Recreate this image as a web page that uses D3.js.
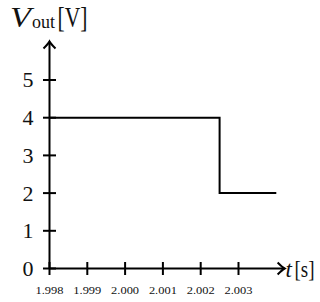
<!DOCTYPE html>
<html><head><meta charset="utf-8">
<script src="https://cdn.jsdelivr.net/npm/d3@7"></script>
<style>body{margin:0;background:#fff}svg{display:block}</style>
</head><body>
<script>
const tTicks = [1.998, 1.999, 2.000, 2.001, 2.002, 2.003];
const vTicks = [0, 1, 2, 3, 4, 5];
const tData = [1.998, 2.0025, 2.004];
const vData = [4, 2, 2];

const W = 320, H = 302;
const svg = d3.select("body").append("svg").attr("width", W).attr("height", H);
const x = d3.scaleLinear().domain([1.998, 2.003]).range([49.5, 238.5]);
const y = d3.scaleLinear().domain([0, 5]).range([268.5, 80]);
const font = "'Liberation Serif', 'DejaVu Serif', serif";

// data line
const line = d3.line().x((d, i) => x(tData[i])).y(d => y(d)).curve(d3.curveStepAfter);
svg.append("path").attr("d", line(vData)).attr("fill", "none").attr("stroke", "#000").attr("stroke-width", 2);

// axes
const x0 = x(1.998), y0 = y(0);
const xEnd = x(2.00422), yEnd = y(6.02);
svg.append("line").attr("x1", x0).attr("x2", xEnd).attr("y1", y0).attr("y2", y0).attr("stroke", "#000").attr("stroke-width", 2);
svg.append("line").attr("x1", x0).attr("x2", x0).attr("y1", y0).attr("y2", yEnd).attr("stroke", "#000").attr("stroke-width", 2);
// arrow heads
svg.append("path").attr("d", `M${xEnd-7},${y0-6} Q${xEnd-2},${y0-1} ${xEnd},${y0} Q${xEnd-2},${y0+1} ${xEnd-7},${y0+6}`)
  .attr("fill", "none").attr("stroke", "#000").attr("stroke-width", 2);
svg.append("path").attr("d", `M${x0-6},${yEnd+7} Q${x0-1},${yEnd+2} ${x0},${yEnd} Q${x0+1},${yEnd+2} ${x0+6},${yEnd+7}`)
  .attr("fill", "none").attr("stroke", "#000").attr("stroke-width", 2);

// ticks
svg.selectAll(".xt").data(tTicks).enter().append("line")
  .attr("x1", d => x(d)).attr("x2", d => x(d)).attr("y1", y0 - 6.5).attr("y2", y0 + 6.5)
  .attr("stroke", "#000").attr("stroke-width", 2);
svg.selectAll(".yt").data(vTicks).enter().append("line")
  .attr("x1", x0 - 6.5).attr("x2", x0 + 6.5).attr("y1", d => y(d)).attr("y2", d => y(d))
  .attr("stroke", "#000").attr("stroke-width", 2);

// tick labels
svg.selectAll(".xl").data(tTicks).enter().append("text")
  .attr("x", d => x(d)).attr("y", 293.5).attr("text-anchor", "middle")
  .attr("font-family", font).attr("font-size", 10.6).attr("textLength", 28).attr("lengthAdjust", "spacingAndGlyphs")
  .attr("fill", "#111").text(d => d.toFixed(3));
svg.selectAll(".yl").data(vTicks).enter().append("text")
  .attr("x", 33.5).attr("y", d => y(d) + 7.4).attr("text-anchor", "end")
  .attr("font-family", font).attr("font-size", 22).attr("fill", "#111").text(d => d);

// x axis label
svg.append("text").attr("x", 285.5).attr("y", 277).attr("font-family", font).attr("font-size", 23)
  .attr("font-style", "italic").attr("fill", "#111").text("t");
svg.append("text").attr("x", 294.5).attr("y", 277).attr("font-family", font).attr("font-size", 24)
  .attr("textLength", 20).attr("lengthAdjust", "spacingAndGlyphs").attr("fill", "#111").text("[s]");

// y axis label
svg.append("text").attr("x", 10).attr("y", 26.7).attr("font-family", font).attr("font-size", 30)
  .attr("font-style", "italic").attr("textLength", 21).attr("lengthAdjust", "spacingAndGlyphs").attr("fill", "#111").text("V");
svg.append("text").attr("x", 32).attr("y", 28.3).attr("font-family", font).attr("font-size", 18)
  .attr("textLength", 23).attr("lengthAdjust", "spacingAndGlyphs").attr("fill", "#111").text("out");
svg.append("text").attr("x", 57.5).attr("y", 26.7).attr("font-family", font).attr("font-size", 30)
  .attr("textLength", 30).attr("lengthAdjust", "spacingAndGlyphs").attr("fill", "#111").text("[V]");
</script>
</body></html>
